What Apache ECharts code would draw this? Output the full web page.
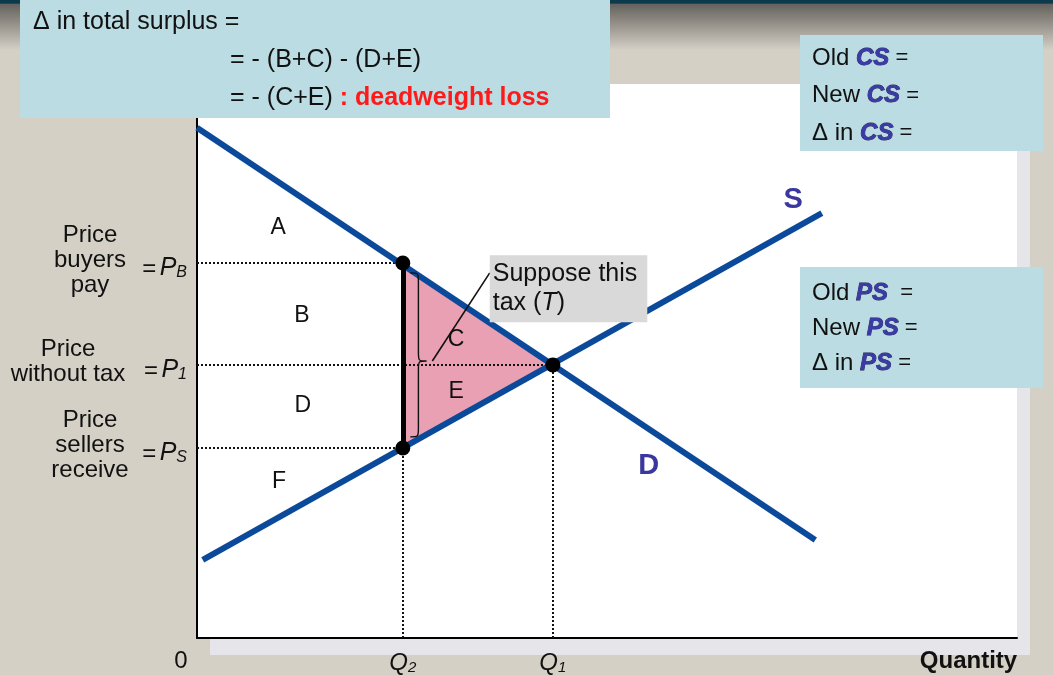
<!DOCTYPE html>
<html><head><meta charset="utf-8">
<script src="https://cdn.jsdelivr.net/npm/echarts@6/dist/echarts.min.js"></script>
<style>html,body{margin:0;padding:0;background:#d4d0c6}#c{width:1053px;height:675px}</style>
</head><body><div id="c"></div>
<script>
const FONT = '"Liberation Sans", Arial, Helvetica, sans-serif';

// ---- data ----
const demandLine = [[0, 9.21], [7.54, 1.77]];
const supplyLine = [[0.07, 1.41], [7.62, 7.67]];
const Q1 = 4.34, Q2 = 2.51;
const P1 = 4.93, PB = 6.77, PS = 3.43;
const priceTicks = [PS, P1, PB];
const quantityTicks = [0, Q2, Q1, 10];
const areaLabels = [['A', 0.99, 7.40], ['B', 1.28, 5.81], ['C', 3.16, 5.38], ['D', 1.29, 4.19], ['E', 3.16, 4.44], ['F', 1.00, 2.83]];
const curveLabels = [['S', 7.27, 7.91], ['D', 5.51, 3.10]];
const dwlTriangle = [[Q2, PB], [Q1, P1], [Q2, PS]];
const braceSpan = { x: 2.60, tipX: 2.80, top: 6.59, bottom: 3.63, tipY: 5.0 };
const leader = [[2.87, 5.0], [3.57, 6.59]];
const taxNote = [3.57, 6.91];

const near = (a, b) => Math.abs(a - b) < 1e-6;
const chart = echarts.init(document.getElementById('c'));

const txt = (size, extra) => Object.assign({ fontFamily: FONT, fontSize: size, color: '#111' }, extra || {});

chart.setOption({
  backgroundColor: '#d4d0c6',
  animation: false,
  grid: {
    left: 197, right: 36, top: 84, bottom: 37, show: true,
    backgroundColor: '#ffffff', borderWidth: 0,
    shadowColor: '#e5e5ea', shadowOffsetX: 13, shadowOffsetY: 17, shadowBlur: 0
  },
  xAxis: {
    type: 'value', min: 0, max: 10,
    axisLine: { show: true, onZero: false, lineStyle: { color: '#000', width: 2 } },
    axisTick: { show: false }, splitLine: { show: false },
    axisLabel: {
      customValues: quantityTicks, margin: 11,
      formatter: v => {
        if (near(v, 0)) return '{z|0}';
        if (near(v, Q2)) return '{q|Q}{qs|2}';
        if (near(v, Q1)) return '{q|Q}{qs|1}';
        return '{b|Quantity}';
      },
      rich: {
        z: txt(24, { padding: [0, 32, 0, 0] }),
        q: txt(24, { fontStyle: 'italic', verticalAlign: 'bottom', lineHeight: 26 }),
        qs: txt(15, { fontStyle: 'italic', verticalAlign: 'bottom', lineHeight: 26 }),
        b: txt(24, { fontWeight: 'bold', padding: [0, 97, 0, 0] })
      }
    }
  },
  yAxis: [{
    type: 'value', min: 0, max: 10, position: 'left',
    axisLine: { show: true, onZero: false, lineStyle: { color: '#000', width: 2 } },
    axisTick: { show: false }, splitLine: { show: false },
    axisLabel: {
      customValues: priceTicks, margin: 10, padding: [8, 0, 0, 0],
      formatter: v => {
        const s = near(v, PB) ? 'B' : near(v, P1) ? '1' : 'S';
        return '{eq|=} {p|P}{s|' + s + '}';
      },
      rich: {
        eq: txt(24, { verticalAlign: 'bottom', lineHeight: 28 }),
        p: txt(25, { fontStyle: 'italic', verticalAlign: 'bottom', lineHeight: 28 }),
        s: txt(16, { fontStyle: 'italic', verticalAlign: 'bottom', lineHeight: 28 })
      }
    }
  }, {
    type: 'value', min: 0, max: 10, position: 'left', offset: 0,
    axisLine: { show: false }, axisTick: { show: false }, splitLine: { show: false },
    axisLabel: {
      customValues: priceTicks, margin: 107, align: 'center', padding: [0, 0, 6, 0],
      formatter: v => {
        if (near(v, PB)) return '{t|Price}\n{t|buyers}\n{t|pay}';
        if (near(v, P1)) return '{w|Price}\n{w|without tax}';
        return '{t|Price}\n{t|sellers}\n{t|receive}';
      },
      rich: {
        t: txt(24, { align: 'center', lineHeight: 25 }),
        w: txt(24, { align: 'center', lineHeight: 25, padding: [0, 44, 0, 0] })
      }
    }
  }],
  graphic: [
    { type: 'rect', z: 0, shape: { x: 0, y: 0, width: 1053, height: 50 },
      style: { fill: new echarts.graphic.LinearGradient(0, 0, 0, 1, [
        { offset: 0, color: '#0b3a4c' }, { offset: 0.06, color: '#0b3a4c' },
        { offset: 0.09, color: '#66625d' }, { offset: 1, color: '#d4d0c6' }]) } },
    { type: 'rect', z: 100, shape: { x: 20, y: 0, width: 590, height: 118 }, style: { fill: '#badce2' } },
    { type: 'text', z: 101, x: 33, y: 22, style: { text: 'Δ in total surplus =', font: '25px ' + FONT, fill: '#111', verticalAlign: 'middle' } },
    { type: 'text', z: 101, x: 230, y: 60, style: { text: '= - (B+C) - (D+E)', font: '25px ' + FONT, fill: '#111', verticalAlign: 'middle' } },
    { type: 'text', z: 101, x: 230, y: 98, style: { text: '{n|= - (C+E) }{r|: deadweight loss}', verticalAlign: 'middle',
      rich: { n: { font: '25px ' + FONT, fill: '#111' }, r: { font: 'bold 25px ' + FONT, fill: '#ff1a1a' } } } },
    { type: 'rect', z: 100, shape: { x: 800, y: 35, width: 243, height: 116 }, style: { fill: '#badce2' } },
    ...['Old', 'New', 'Δ in'].map((w, i) => ({ type: 'text', z: 101, x: 812, y: 58 + i * 37.5,
      style: { text: '{n|' + w + ' }{c|CS}{e| =}', verticalAlign: 'middle',
        rich: { n: { font: '24px ' + FONT, fill: '#111' },
                c: { font: 'italic bold 24px ' + FONT, fill: '#3b3aa6', stroke: '#1c1c50', lineWidth: 0.8 },
                e: { font: '22px ' + FONT, fill: '#111' } } } })),
    { type: 'rect', z: 100, shape: { x: 800, y: 267, width: 243, height: 121 }, style: { fill: '#badce2' } },
    ...['Old', 'New', 'Δ in'].map((w, i) => ({ type: 'text', z: 101, x: 812, y: 293 + i * 35,
      style: { text: '{n|' + w + ' }{c|PS}{e|' + (i === 0 ? '  =' : ' =') + '}', verticalAlign: 'middle',
        rich: { n: { font: '24px ' + FONT, fill: '#111' },
                c: { font: 'italic bold 24px ' + FONT, fill: '#3b3aa6', stroke: '#1c1c50', lineWidth: 0.8 },
                e: { font: '22px ' + FONT, fill: '#111' } } } }))
  ],
  series: [
    { type: 'custom', z: 1, silent: true, data: [[0, 0]],
      renderItem: (params, api) => ({ type: 'polygon',
        shape: { points: dwlTriangle.map(p => api.coord(p)) }, style: { fill: '#e9a0b2' } }) },
    { type: 'lines', coordinateSystem: 'cartesian2d', z: 2, silent: true,
      lineStyle: { type: [2, 2], width: 2, color: '#111', opacity: 1 },
      data: [
        { coords: [[0, PB], [Q2, PB]] }, { coords: [[0, P1], [Q1, P1]] }, { coords: [[0, PS], [Q2, PS]] },
        { coords: [[Q2, 0], [Q2, PS]] }, { coords: [[Q1, 0], [Q1, P1]] }] },
    { type: 'line', z: 3, data: demandLine, symbol: 'none', silent: true, lineStyle: { color: '#0b4a9a', width: 6 } },
    { type: 'line', z: 3, data: supplyLine, symbol: 'none', silent: true, lineStyle: { color: '#0b4a9a', width: 6 } },
    { type: 'lines', coordinateSystem: 'cartesian2d', z: 4, silent: true,
      lineStyle: { width: 5, color: '#000', opacity: 1 }, data: [{ coords: [[Q2, PB], [Q2, PS]] }] },
    { type: 'custom', z: 5, silent: true, data: [[0, 0]],
      renderItem: (params, api) => {
        const t = api.coord([braceSpan.x, braceSpan.top]);
        const b = api.coord([braceSpan.x, braceSpan.bottom]);
        const m = api.coord([braceSpan.tipX, braceSpan.tipY]);
        const x0 = t[0], x2 = m[0], x1 = (x0 + x2) / 2, yT = t[1], yB = b[1], yM = m[1], r = 9;
        const d = `M${x0} ${yT} C${x1} ${yT} ${x1} ${yT} ${x1} ${yT + r} L${x1} ${yM - r} C${x1} ${yM} ${x1} ${yM} ${x2} ${yM} ` +
          `C${x1} ${yM} ${x1} ${yM} ${x1} ${yM + r} L${x1} ${yB - r} C${x1} ${yB} ${x1} ${yB} ${x0} ${yB}`;
        return { type: 'path', shape: { pathData: d }, style: { fill: 'none', stroke: '#111', lineWidth: 1.4 } };
      } },
    { type: 'lines', coordinateSystem: 'cartesian2d', z: 5, silent: true,
      lineStyle: { width: 1.6, color: '#111', opacity: 1 }, data: [{ coords: leader }] },
    { type: 'scatter', z: 6, silent: true, symbolSize: 15, itemStyle: { color: '#000', opacity: 1 },
      data: [[Q2, PB], [Q2, PS], [Q1, P1]] },
    { type: 'scatter', z: 7, silent: true, symbolSize: 0, itemStyle: { color: '#000', opacity: 1 },
      data: areaLabels.map(a => ({ name: a[0], value: [a[1], a[2]] })),
      label: { show: true, position: 'inside', formatter: '{b}', fontFamily: FONT, fontSize: 23, color: '#111' } },
    { type: 'scatter', z: 7, silent: true, symbolSize: 0, itemStyle: { color: '#000', opacity: 1 },
      data: curveLabels.map(a => ({ name: a[0], value: [a[1], a[2]] })),
      label: { show: true, position: 'inside', formatter: '{b}', fontFamily: FONT, fontSize: 29, fontWeight: 'bold', color: '#3a389e' } },
    { type: 'scatter', z: 8, silent: true, symbolSize: 0, itemStyle: { color: '#000', opacity: 1 },
      data: [{ value: taxNote }],
      label: { show: true, position: [0, 0], align: 'left', verticalAlign: 'top',
        formatter: '{n|Suppose this}\n{n|tax (}{i|T}{n|)}',
        backgroundColor: '#d9d9d9', padding: [4, 10, 5, 3],
        rich: { n: txt(25, { lineHeight: 29 }), i: txt(25, { fontStyle: 'italic', lineHeight: 29 }) } } }
  ]
});
</script></body></html>
